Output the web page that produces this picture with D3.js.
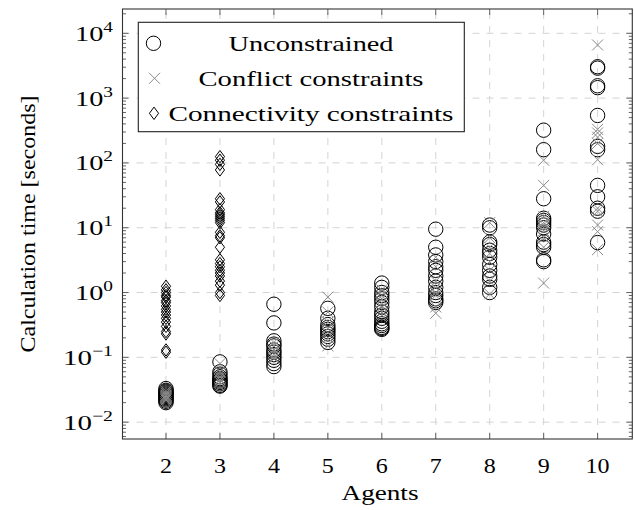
<!DOCTYPE html>
<html lang="en">
<head>
  <meta charset="UTF-8">
  <title>Calculation time vs agents</title>
  <script src="https://d3js.org/d3.v7.min.js"></script>
  <style>
    body { margin: 0; background: #fff; }
    svg { display: block; font-family: "Liberation Serif", serif; }
  </style>
</head>
<body>
<svg width="634" height="510"></svg>
<script>
// number of agents on the x axis
const agents = [2, 3, 4, 5, 6, 7, 8, 9, 10];

// calculation times [s], one list per agent count
const unconstrained = [
  [0.033, 0.031, 0.030, 0.029, 0.028, 0.027, 0.026, 0.025, 0.024, 0.023, 0.022, 0.021, 0.020],
  [0.085, 0.060, 0.055, 0.050, 0.047, 0.045, 0.043, 0.041, 0.039, 0.037, 0.036],
  [0.66, 0.34, 0.18, 0.16, 0.15, 0.13, 0.12, 0.11, 0.10, 0.09, 0.08, 0.072],
  [0.57, 0.40, 0.32, 0.29, 0.27, 0.25, 0.23, 0.21, 0.19, 0.17],
  [1.4, 1.2, 1.0, 0.9, 0.8, 0.7, 0.6, 0.5, 0.45, 0.4, 0.36, 0.33, 0.31, 0.29, 0.28, 0.27],
  [9.5, 5, 3.8, 3, 2.5, 2.2, 1.8, 1.5, 1.2, 1.0, 0.9, 0.8, 0.75, 0.7],
  [11, 10, 6, 5.5, 4.5, 4, 3.5, 2.7, 2.2, 1.8, 1.6, 1.2, 1.0],
  [320, 160, 28, 14, 13, 12, 11, 10, 8, 6, 5.5, 5, 3.2, 3.0],
  [3050, 2900, 1550, 1450, 540, 180, 160, 45, 30, 20, 18, 5.9]
];

const conflict = [
  [0.030, 0.028, 0.026, 0.025, 0.024, 0.023, 0.022],
  [0.080, 0.060, 0.050, 0.045, 0.042],
  [0.17, 0.15, 0.13, 0.12, 0.11, 0.10, 0.095],
  [0.85, 0.50, 0.35, 0.28, 0.24, 0.20, 0.15],
  [1.1, 0.9, 0.8, 0.7, 0.6, 0.5, 0.45],
  [3.5, 2.5, 1.5, 1.2, 1.0, 0.9, 0.6, 0.48],
  [12, 7, 5, 4, 3, 2.2, 1.5, 0.95],
  [110, 45, 15, 12, 11, 10, 9, 7, 5, 1.4],
  [6600, 330, 290, 250, 200, 112, 20, 18, 11, 8.7, 4.6]
];

const connAgents = [2, 3];
const connectivity = [
  [1.25, 1.1, 1.0, 0.9, 0.85, 0.75, 0.7, 0.62, 0.55, 0.5, 0.45, 0.4, 0.35, 0.3, 0.25, 0.23, 0.13, 0.12],
  [125, 110, 95, 78, 28, 25, 19, 17, 16, 15, 14, 13, 12, 8.5, 7.5, 7, 5,
   3.2, 2.8, 2.5, 2.2, 2.0, 1.8, 1.5, 1.3, 1.0, 0.9]
];

const yTickExps = [-2, -1, 0, 1, 2, 3, 4];
const legendLabels = ["Unconstrained", "Conflict constraints", "Connectivity constraints"];

const svg = d3.select("svg");
const L = 122.5, R = 632.3, T = 9, B = 439;
const FS = 22;

const x = d3.scaleLinear().domain([1.194, 10.643]).range([L, R]);
const y = d3.scaleLog().domain([Math.pow(10, -2.26), Math.pow(10, 4.375)]).range([B, T]);

function flatten(xs, lists) {
  const out = [];
  lists.forEach((vals, i) => vals.forEach(v => out.push({ a: xs[i], t: v })));
  return out;
}

// grid
const grid = svg.append("g").attr("stroke", "#d4d4d4").attr("stroke-width", 1)
  .attr("stroke-dasharray", "7,7");
grid.selectAll(".gx").data(agents).enter().append("line")
  .attr("x1", d => x(d)).attr("x2", d => x(d)).attr("y1", B).attr("y2", T);
grid.selectAll(".gy").data(yTickExps).enter().append("line")
  .attr("y1", d => y(Math.pow(10, d))).attr("y2", d => y(Math.pow(10, d)))
  .attr("x1", L).attr("x2", R);

// ticks
const ticks = svg.append("g").attr("stroke", "#555").attr("stroke-width", 0.9);
agents.forEach(a => {
  ticks.append("line").attr("x1", x(a)).attr("x2", x(a)).attr("y1", B).attr("y2", B - 6);
  ticks.append("line").attr("x1", x(a)).attr("x2", x(a)).attr("y1", T).attr("y2", T + 6);
});
const minor = [];
for (let e = -3; e <= 4; e++) for (let m = 2; m <= 9; m++) {
  const v = m * Math.pow(10, e);
  if (v > y.domain()[0] && v < y.domain()[1]) minor.push(v);
}
minor.forEach(v => {
  ticks.append("line").attr("x1", L).attr("x2", L + 3.5).attr("y1", y(v)).attr("y2", y(v));
  ticks.append("line").attr("x1", R).attr("x2", R - 3.5).attr("y1", y(v)).attr("y2", y(v));
});
yTickExps.forEach(e => {
  const v = Math.pow(10, e);
  ticks.append("line").attr("x1", L).attr("x2", L + 6).attr("y1", y(v)).attr("y2", y(v));
  ticks.append("line").attr("x1", R).attr("x2", R - 6).attr("y1", y(v)).attr("y2", y(v));
});

// frame
svg.append("rect").attr("x", L).attr("y", T).attr("width", R - L).attr("height", B - T)
  .attr("fill", "none").attr("stroke", "#333").attr("stroke-width", 1.1);

// tick labels
svg.selectAll(".xl").data(agents).enter().append("text")
  .attr("x", d => x(d)).attr("y", 473).attr("text-anchor", "middle")
  .attr("font-size", FS)
  .attr("textLength", d => d >= 10 ? 24 : 12).attr("lengthAdjust", "spacingAndGlyphs")
  .text(d => d);

const yl = svg.selectAll(".yl").data(yTickExps).enter().append("text")
  .attr("x", 113).attr("y", d => y(Math.pow(10, d)) + 7.5)
  .attr("text-anchor", "end").attr("font-size", FS)
  .attr("textLength", d => d < 0 ? 50 : 38).attr("lengthAdjust", "spacingAndGlyphs");
yl.append("tspan").text("10");
yl.append("tspan").attr("dy", -9).attr("font-size", 15)
  .text(d => d < 0 ? "\u2212" + (-d) : d);

// axis labels
svg.append("text").attr("x", 380).attr("y", 500).attr("text-anchor", "middle")
  .attr("font-size", FS).attr("textLength", 77).attr("lengthAdjust", "spacingAndGlyphs")
  .text("Agents");
svg.append("text").attr("transform", `translate(34.5,${(T + B) / 2}) rotate(-90)`)
  .attr("text-anchor", "middle").attr("font-size", FS)
  .attr("textLength", 257).attr("lengthAdjust", "spacingAndGlyphs")
  .text("Calculation time [seconds]");

// marks
const circleR = 7.2;
function crossPath(cx, cy, s) {
  return `M${cx - s},${cy - s}L${cx + s},${cy + s}M${cx - s},${cy + s}L${cx + s},${cy - s}`;
}
function diamondPath(cx, cy, w, h) {
  return `M${cx},${cy - h}L${cx + w},${cy}L${cx},${cy + h}L${cx - w},${cy}Z`;
}

svg.append("g").selectAll("circle").data(flatten(agents, unconstrained)).enter().append("circle")
  .attr("cx", d => x(d.a)).attr("cy", d => y(d.t)).attr("r", circleR)
  .attr("fill", "none").attr("stroke", "#000").attr("stroke-width", 1);

svg.append("g").selectAll("path").data(flatten(agents, conflict)).enter().append("path")
  .attr("d", d => crossPath(x(d.a), y(d.t), 5.5))
  .attr("fill", "none").attr("stroke", "#8a8a8a").attr("stroke-width", 1);

svg.append("g").selectAll("path").data(flatten(connAgents, connectivity)).enter().append("path")
  .attr("d", d => diamondPath(x(d.a), y(d.t), 4.6, 6.2))
  .attr("fill", "none").attr("stroke", "#000").attr("stroke-width", 1);

// legend
const lg = svg.append("g");
lg.append("rect").attr("x", 138.3).attr("y", 22.3).attr("width", 326).attr("height", 109.4)
  .attr("fill", "#fff").attr("stroke", "#222").attr("stroke-width", 1.1);
const rowY = [43.3, 78.3, 113.3];
const rowW = [165, 225, 285];
lg.append("circle").attr("cx", 153.5).attr("cy", rowY[0]).attr("r", circleR)
  .attr("fill", "none").attr("stroke", "#000");
lg.append("path").attr("d", crossPath(154.5, rowY[1], 5.5)).attr("fill", "none").attr("stroke", "#8a8a8a");
lg.append("path").attr("d", diamondPath(154, rowY[2], 4.6, 6.2)).attr("fill", "none").attr("stroke", "#000");
lg.selectAll(".lt").data(legendLabels).enter().append("text")
  .attr("x", 311).attr("y", (d, i) => rowY[i] + 7.5).attr("text-anchor", "middle")
  .attr("font-size", FS)
  .attr("textLength", (d, i) => rowW[i]).attr("lengthAdjust", "spacingAndGlyphs")
  .text(d => d);
</script>
</body>
</html>
